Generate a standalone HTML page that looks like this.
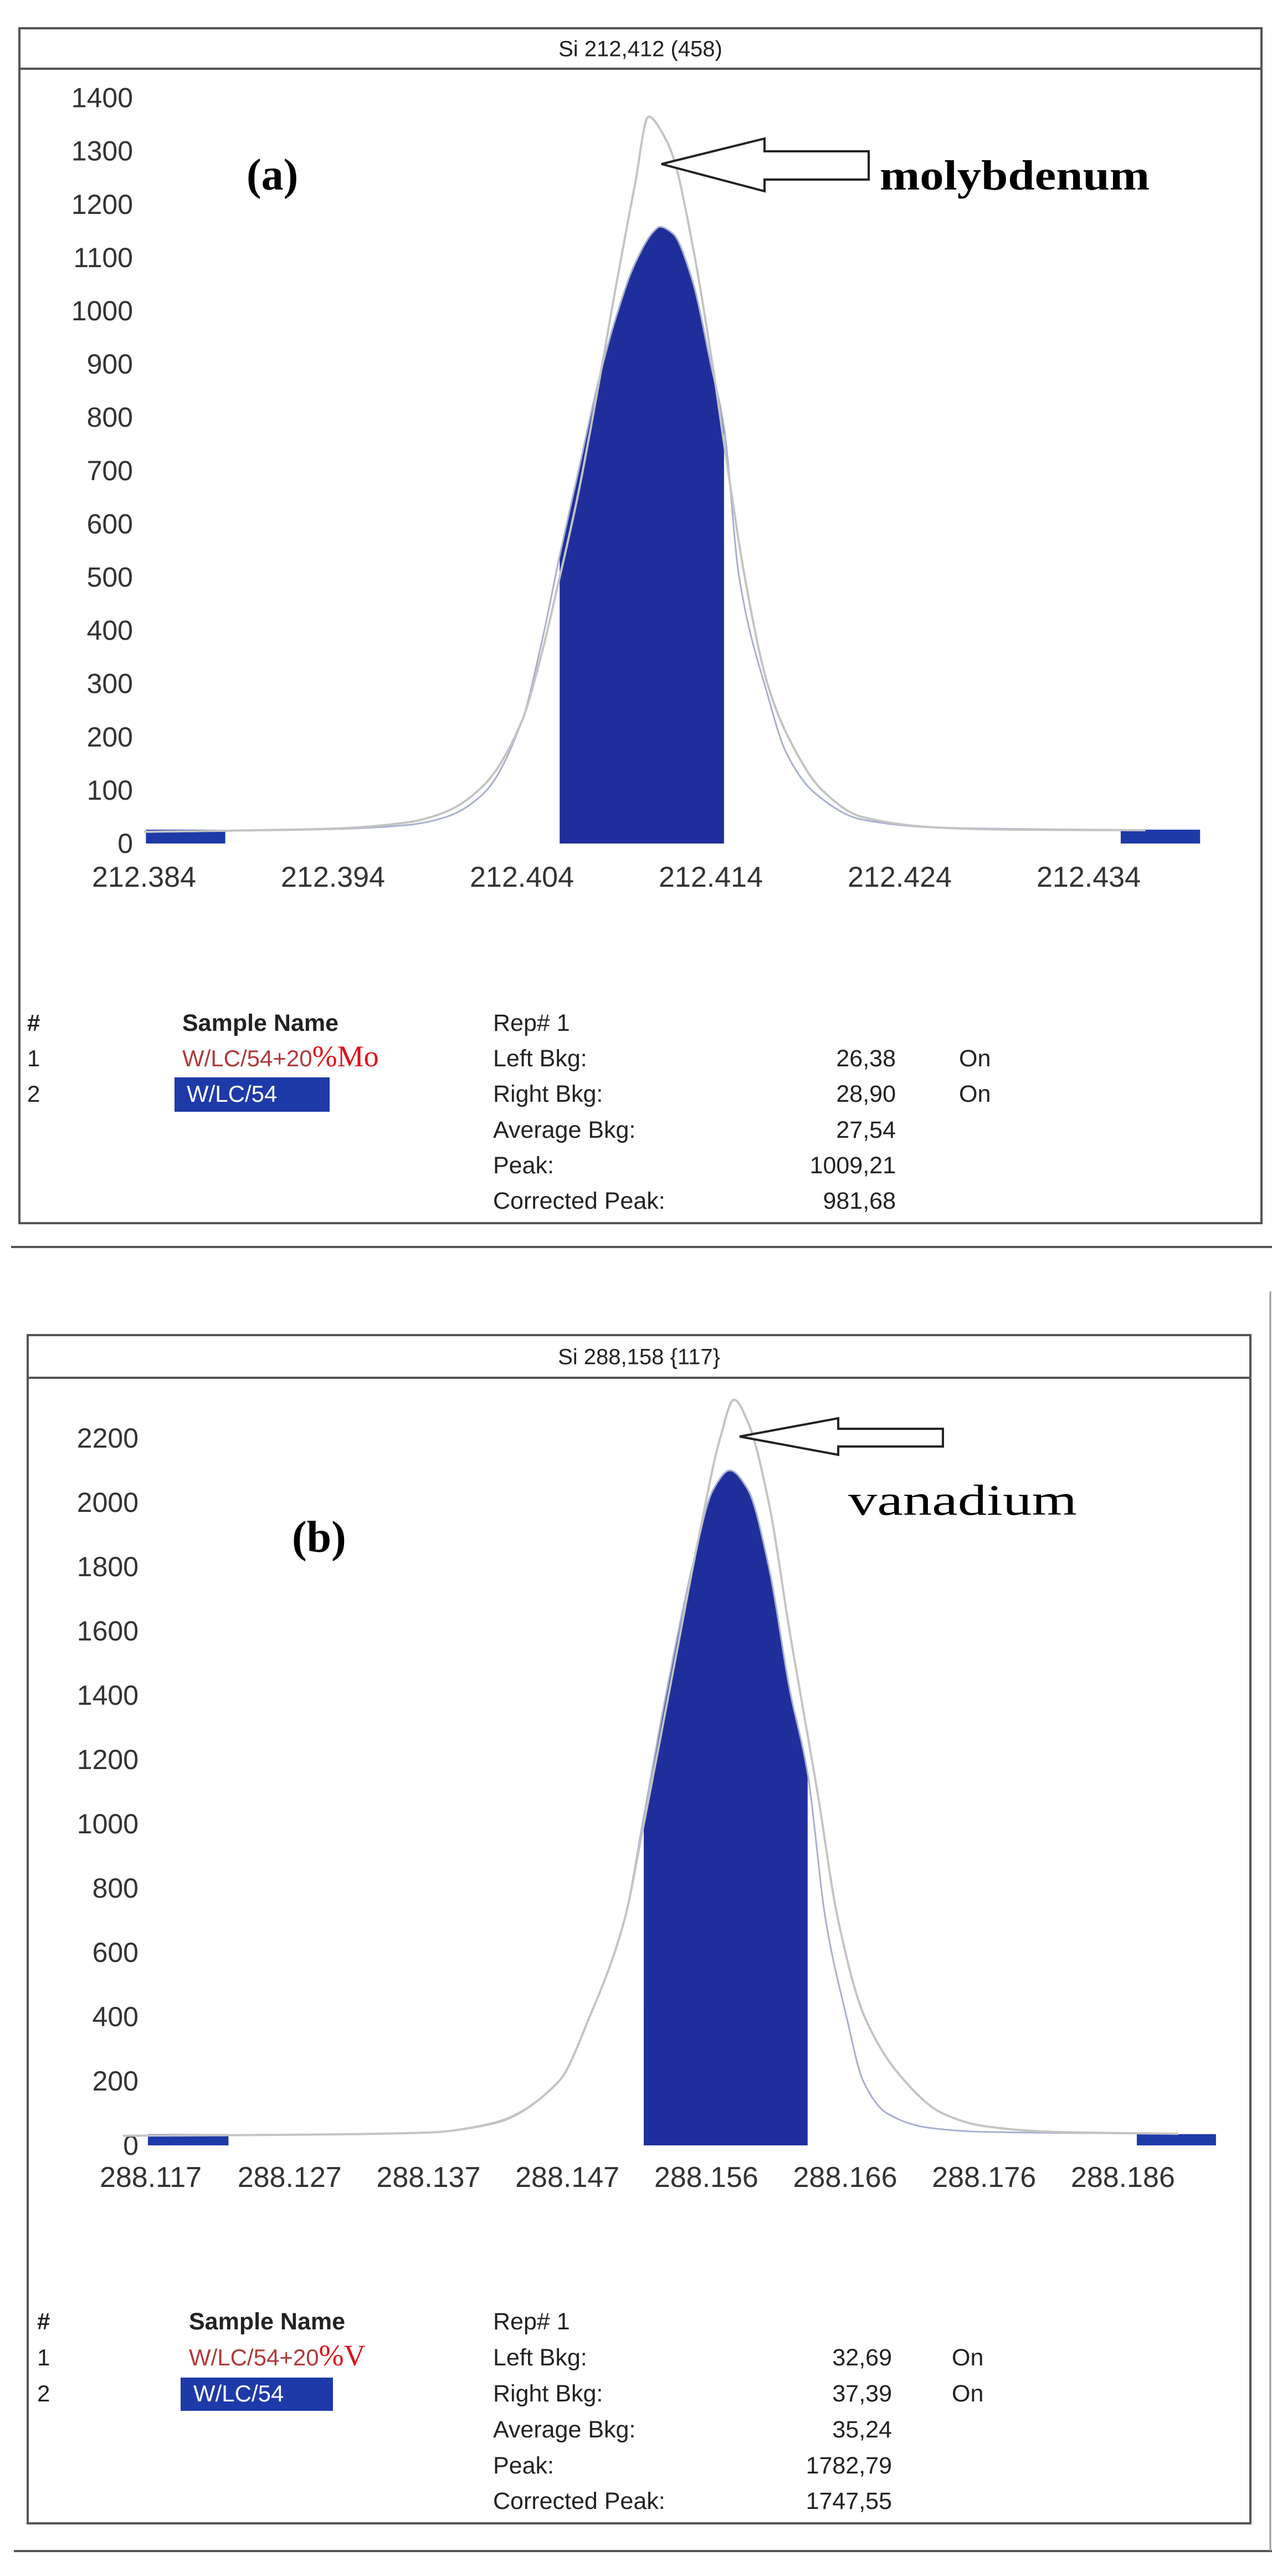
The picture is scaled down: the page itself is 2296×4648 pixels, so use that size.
<!DOCTYPE html>
<html><head><meta charset="utf-8">
<style>
html,body{margin:0;padding:0;background:#fff;}
body{width:2296px;height:4648px;overflow:hidden;position:relative;font-family:"Liberation Sans",sans-serif;}
svg{position:absolute;left:0;top:0;}
</style></head>
<body>
<svg id="root" width="2296" height="4648" viewBox="0 0 2296 4648" xmlns="http://www.w3.org/2000/svg"></svg>
<script>
// ---- Panel (a) data ----
const aYTicks = [0,100,200,300,400,500,600,700,800,900,1000,1100,1200,1300,1400];
const aXTickLabels = ["212.384","212.394","212.404","212.414","212.424","212.434"];
const aXTickValues = [212.384,212.394,212.404,212.414,212.424,212.434];
const aOuterX = [212.384,212.390,212.394,212.398,212.400,212.402,212.404,212.405,212.406,212.407,212.408,212.409,212.410,212.4107,212.4115,212.412,212.413,212.414,212.415,212.4158,212.417,212.4181,212.4199,212.422,212.426,212.430,212.437];
const aOuterY = [22,25,28,40,60,110,230,350,500,660,850,1050,1240,1365,1330,1290,1130,920,680,500,300,200,100,50,30,26,25];
const aInnerX = [212.384,212.394,212.398,212.400,212.402,212.404,212.405,212.406,212.407,212.408,212.409,212.410,212.411,212.4113,212.412,212.413,212.414,212.4147,212.4155,212.417,212.418,212.4195,212.422,212.426,212.437];
const aInnerY = [22,27,35,50,95,230,370,540,700,860,990,1090,1150,1158,1145,1060,900,782,500,280,170,95,45,30,25];
const aFillRange = [212.406,212.4147];
const aBkgLeft = [212.3841,212.3883];
const aBkgRight = [212.4357,212.4399];
const aBkgValue = 26;
// ---- Panel (b) data ----
const bYTicks = [0,200,400,600,800,1000,1200,1400,1600,1800,2000,2200];
const bXTickLabels = ["288.117","288.127","288.137","288.147","288.156","288.166","288.176","288.186"];
const bXTickValues = [0,1,2,3,4,5,6,7];
const bOuterX = [-0.2,1,2.0,2.47,2.94,3.16,3.41,3.55,3.75,3.95,4.1,4.2,4.3,4.45,4.6,4.8,4.95,5.14,5.43,5.7,6.0,6.5,7.4];
const bOuterY = [30,33,40,70,200,400,700,1000,1450,1900,2200,2320,2250,2000,1600,1100,700,400,200,100,60,42,36];
const bInnerX = [-0.2,1,2.0,2.47,2.94,3.16,3.41,3.55,3.7,3.9,4.05,4.17,4.3,4.45,4.6,4.73,4.86,5.01,5.13,5.3,5.6,6.0,7.4];
const bInnerY = [30,33,40,68,200,400,700,1022,1380,1800,2040,2100,2040,1800,1420,1157,700,400,200,100,55,42,36];
const bFillRange = [3.55,4.73];
const bBkgLeft = [-0.02,0.56];
const bBkgRight = [7.1,7.67];
const bBkgValue = 35;

const NS="http://www.w3.org/2000/svg";
const root=document.getElementById('root');
function mk(tag,attrs,parent,text){const e=document.createElementNS(NS,tag);for(const k in attrs)e.setAttribute(k,attrs[k]);if(text!==undefined)e.textContent=text;(parent||root).appendChild(e);return e;}
// monotone cubic interpolation (Fritsch-Carlson)
function monoSlopes(xs,ys){const n=xs.length,d=[],m=new Array(n);
  for(let i=0;i<n-1;i++)d.push((ys[i+1]-ys[i])/(xs[i+1]-xs[i]));
  m[0]=d[0];m[n-1]=d[n-2];
  for(let i=1;i<n-1;i++){if(d[i-1]*d[i]<=0)m[i]=0;else{const h0=xs[i]-xs[i-1],h1=xs[i+1]-xs[i];const w1=2*h1+h0,w2=h1+2*h0;m[i]=(w1+w2)/(w1/d[i-1]+w2/d[i]);}}
  return m;}
function interp(xs,ys,x){if(x<=xs[0])return ys[0];if(x>=xs[xs.length-1])return ys[ys.length-1];
  const m=monoSlopes(xs,ys);let i=1;while(x>xs[i])i++;
  const h=xs[i]-xs[i-1],t=(x-xs[i-1])/h,t2=t*t,t3=t2*t;
  return (2*t3-3*t2+1)*ys[i-1]+(t3-2*t2+t)*h*m[i-1]+(-2*t3+3*t2)*ys[i]+(t3-t2)*h*m[i];}

function panel(cfg){
  const g=mk('g',{});
  
  
  const sx=v=>cfg.x0+(v-cfg.xv0)*cfg.xs;
  const sy=v=>cfg.y0-v*cfg.ys;
  const fr=mk('rect',{x:cfg.fl,y:cfg.ft,width:cfg.fr-cfg.fl,height:cfg.fb-cfg.ft,fill:'#fff',stroke:'#555','stroke-width':4},g);
  
  const tb=mk('line',{x1:cfg.fl,y1:cfg.tbb,x2:cfg.fr,y2:cfg.tbb,stroke:'#555','stroke-width':4},g);
  
  const tt=mk('text',{x:(cfg.fl+cfg.fr)/2,y:(cfg.ft+cfg.tbb)/2+14,'text-anchor':'middle','font-size':40,fill:'#222'},g,cfg.title);
  
  cfg.yTicks.forEach(v=>{const t=mk('text',{x:cfg.yLabRight,y:sy(v)+17,'text-anchor':'end','font-size':50,fill:'#333'},g,String(v));
    });
  cfg.xTickValues.forEach((v,i)=>{const t=mk('text',{x:sx(v),y:cfg.xLabY,'text-anchor':'middle','font-size':52,fill:'#333'},g,cfg.xTickLabels[i]);
    });
  const cid='clip-'+cfg.name;
  const cp=mk('clipPath',{id:cid},g);mk('rect',{x:cfg.fl,y:cfg.tbb+30,width:cfg.fr-cfg.fl,height:cfg.y0-cfg.tbb},cp);
  let d='M'+sx(cfg.fill[0])+','+sy(0);
  const n=120;for(let i=0;i<=n;i++){const x=cfg.fill[0]+(cfg.fill[1]-cfg.fill[0])*i/n;d+=' L'+sx(x).toFixed(1)+','+sy(interp(cfg.innerX,cfg.innerY,x)).toFixed(1);}
  d+=' L'+sx(cfg.fill[1])+','+sy(0)+' Z';
  const fp=mk('path',{d:d,fill:'#1e2f9c'},g);
  [cfg.bkgL,cfg.bkgR].forEach((r,i)=>{const b=mk('rect',{x:sx(r[0]),y:sy(cfg.bkgV),width:sx(r[1])-sx(r[0]),height:sy(0)-sy(cfg.bkgV),fill:'#1e3aa8'},g);
    });
  const line=(xs,ys,col,w,name)=>{let p='';const a=xs[0],b=xs[xs.length-1],N=500;
    for(let i=0;i<=N;i++){const x=a+(b-a)*i/N;p+=(i?' L':'M')+sx(x).toFixed(1)+','+sy(interp(xs,ys,x)).toFixed(1);}
    const e=mk('path',{d:p,fill:'none',stroke:col,'stroke-width':w,'stroke-linejoin':'round','clip-path':'url(#'+cid+')'},g);
    };
  line(cfg.innerX,cfg.innerY,'#a8b0d0',3,'sample-2-curve');
  line(cfg.outerX,cfg.outerY,'#c4c4c4',4,'sample-1-curve');
  return {g,sx,sy};
}

panel({name:'panel-a',title:'Si 212,412 (458)',fl:35,fr:2277,ft:51,fb:2207,tbb:124,
  x0:260,xv0:212.384,xs:34100,y0:1522,ys:0.961,yLabRight:240,xLabY:1600,
  yTicks:aYTicks,xTickLabels:aXTickLabels,xTickValues:aXTickValues,
  outerX:aOuterX,outerY:aOuterY,innerX:aInnerX,innerY:aInnerY,fill:aFillRange,bkgL:aBkgLeft,bkgR:aBkgRight,bkgV:aBkgValue});
panel({name:'panel-b',title:'Si 288,158 {117}',fl:50,fr:2257,ft:2409,fb:4553,tbb:2486,
  x0:272,xv0:0,xs:250.7,y0:3871,ys:0.58,yLabRight:250,xLabY:3946,
  yTicks:bYTicks,xTickLabels:bXTickLabels,xTickValues:bXTickValues,
  outerX:bOuterX,outerY:bOuterY,innerX:bInnerX,innerY:bInnerY,fill:bFillRange,bkgL:bBkgLeft,bkgR:bBkgRight,bkgV:bBkgValue});

let s1=mk('line',{x1:20,y1:2250,x2:2296,y2:2250,stroke:'#555','stroke-width':4});

let s2=mk('line',{x1:25,y1:4603,x2:2296,y2:4603,stroke:'#555','stroke-width':4});

let s3=mk('line',{x1:2293,y1:2330,x2:2293,y2:4603,stroke:'#999','stroke-width':3});


function txt(x,y,s,attrs,name){const t=mk('text',Object.assign({x:x,y:y},attrs),root,s);return t;}
txt(445,342,'(a)',{'font-family':'Liberation Serif, serif','font-weight':'bold','font-size':80,fill:'#000'},'panel-label-a');
txt(1588,342,'molybdenum',{'font-family':'Liberation Serif, serif','font-weight':'bold','font-size':76,fill:'#000',textLength:487,lengthAdjust:'spacingAndGlyphs'},'molybdenum-label');
txt(527,2800,'(b)',{'font-family':'Liberation Serif, serif','font-weight':'bold','font-size':80,fill:'#000'},'panel-label-b');
txt(1531,2733,'vanadium',{'font-family':'Liberation Serif, serif','font-size':78,fill:'#000',textLength:413,lengthAdjust:'spacingAndGlyphs'},'vanadium-label');
let ar1=mk('path',{d:'M1194,296 L1380,250 L1380,273 L1568,273 L1568,324 L1380,324 L1380,345 Z',fill:'#fff',stroke:'#222','stroke-width':4});

let ar2=mk('path',{d:'M1335,2592 L1513,2559 L1513,2578 L1702,2578 L1702,2610 L1513,2610 L1513,2625 Z',fill:'#fff',stroke:'#222','stroke-width':4});


function table(c){
  const rows=c.rowY;
  txt(c.hx,rows[0],'#',{'font-size':42,'font-weight':'bold',fill:'#222'},'table-header-index');
  txt(c.hx,rows[1],'1',{'font-size':42,fill:'#222'},'row-index');
  txt(c.hx,rows[2],'2',{'font-size':42,fill:'#222'},'row-index');
  txt(c.sx,rows[0],'Sample Name',{'font-size':43,'font-weight':'bold',fill:'#222'},'table-header-sample-name');
  const t1=txt(c.sx,rows[1],'W/LC/54+20',{'font-size':42,fill:'#b03a3a'},'sample-1-name');
  const ts=mk('tspan',{fill:'#e0101a','font-size':54,'font-family':'Liberation Serif, serif'},t1,c.suffix);
  
  const bx=mk('rect',{x:c.bx,y:c.by,width:c.bw,height:c.bh,fill:'#1e3aa8'});
  
  txt(c.sx+8,rows[2],'W/LC/54',{'font-size':42,fill:'#fff'},'sample-2-name');
  const labels=['Rep# 1','Left Bkg:','Right Bkg:','Average Bkg:','Peak:','Corrected Peak:'];
  labels.forEach((l,i)=>txt(890,rows[i],l,{'font-size':43,fill:'#222'},'stat-label'));
  c.vals.forEach((v,i)=>txt(c.vr,rows[i+1],v,{'font-size':43,fill:'#222','text-anchor':'end'},'stat-value'));
  txt(c.onx,rows[1],'On',{'font-size':43,fill:'#222'},'left-bkg-status');
  txt(c.onx,rows[2],'On',{'font-size':43,fill:'#222'},'right-bkg-status');
}
table({rowY:[1860,1924,1988,2053,2117,2181],hx:49,sx:329,suffix:'%Mo',bx:315,by:1944,bw:280,bh:62,vr:1617,onx:1731,
  vals:['26,38','28,90','27,54','1009,21','981,68']});
table({rowY:[4203,4268,4333,4398,4463,4527],hx:67,sx:341,suffix:'%V',bx:326,by:4290,bw:275,bh:60,vr:1610,onx:1718,
  vals:['32,69','37,39','35,24','1782,79','1747,55']});
</script>
</body></html>
